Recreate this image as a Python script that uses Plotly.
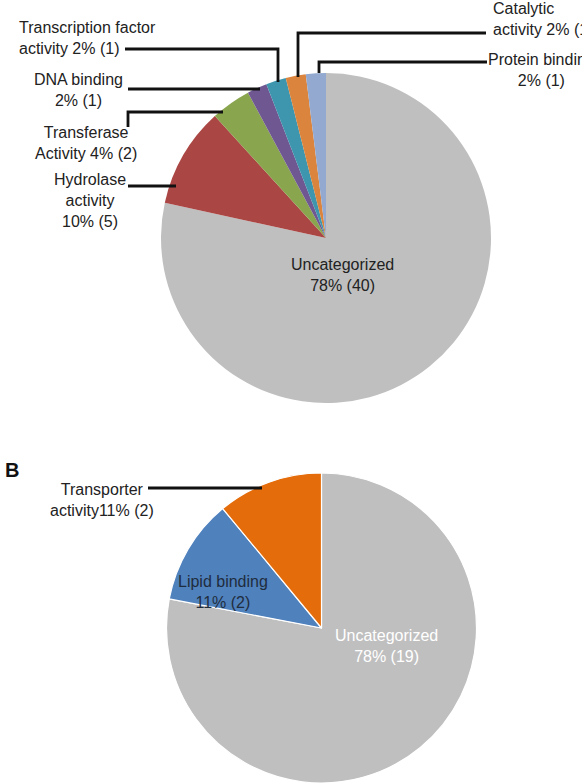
import plotly.graph_objects as go

W, H = 582, 783

# ---- Data (panel A) ----
a_labels = ["Uncategorized", "Hydrolase activity", "Transferase Activity", "DNA binding",
            "Transcription factor activity", "Catalytic activity", "Protein binding"]
a_counts = [40, 5, 2, 1, 1, 1, 1]
a_pct = ["78%", "10%", "4%", "2%", "2%", "2%", "2%"]
a_colors = ["#BFBFBF", "#AA4643", "#89A54E", "#6F5792", "#3D96AE", "#DB843D", "#93A9CF"]

# ---- Data (panel B) ----
b_labels = ["Uncategorized", "Lipid binding", "Transporter activity"]
b_share = [78, 11, 11]          # slice share as drawn (%)
b_counts = [19, 2, 2]
b_pct = ["78%", "11%", "11%"]
b_colors = ["#BFBFBF", "#4F81BD", "#E46C0A"]

FONT = "Liberation Sans, Arial, sans-serif"
TXT = "#222222"
FS = 16


def px(x, y):
    return x / W, 1 - y / H


def dom(cx, cy, r):
    return dict(x=[(cx - r) / W, (cx + r) / W],
                y=[max(0, (H - cy - r) / H), min(1, (H - cy + r) / H)])


fig = go.Figure()
fig.add_trace(go.Pie(
    labels=a_labels, values=a_counts, sort=False, direction="clockwise", rotation=0,
    marker=dict(colors=a_colors, line=dict(width=0)),
    textinfo="none", hoverinfo="label+value+percent", domain=dom(326, 238, 165),
))
fig.add_trace(go.Pie(
    labels=b_labels, values=b_share, sort=False, direction="clockwise", rotation=0,
    marker=dict(colors=b_colors, line=dict(color="white", width=1.2)),
    textinfo="none", hoverinfo="label+percent", domain=dom(321.5, 628, 155),
))


def lab(lbl_lines, i, pct, cnt, joiner):
    return lbl_lines + joiner + f"{pct[i]} ({cnt[i]})"


a_text = [
    lab("Uncategorized", 0, a_pct, a_counts, "<br>"),
    lab("Hydrolase<br>activity", 1, a_pct, a_counts, "<br>"),
    lab("Transferase<br>Activity", 2, a_pct, a_counts, " "),
    lab("DNA binding", 3, a_pct, a_counts, "<br>"),
    lab("Transcription factor<br>activity", 4, a_pct, a_counts, " "),
    lab("Catalytic<br>activity", 5, a_pct, a_counts, " "),
    lab("Protein binding", 6, a_pct, a_counts, "<br>"),
]
# (x, y, xanchor, align)
a_pos = [(342, 275, "center", "center"), (90, 200, "center", "center"),
         (86, 143, "center", "center"), (78, 90.5, "center", "center"),
         (17, 38, "left", "left"), (491, 19, "left", "left"),
         (541, 70.5, "center", "center")]

b_text = [
    lab("Uncategorized", 0, b_pct, b_counts, "<br>"),
    lab("Lipid binding", 1, b_pct, b_counts, "<br>"),
    lab("Transporter<br>activity", 2, b_pct, b_counts, ""),
]
b_pos = [(386, 645.5, "center", "center", "white"),
         (223, 591.5, "center", "center", "#1F2D3D"),
         (102, 500, "center", "center", TXT)]

ann = []
for t, (x, y, xa, al) in zip(a_text, a_pos):
    X, Y = px(x, y)
    ann.append(dict(x=X, y=Y, xref="paper", yref="paper", text=t, showarrow=False,
                    xanchor=xa, yanchor="middle", align=al,
                    font=dict(family=FONT, size=FS, color=TXT)))
for t, (x, y, xa, al, c) in zip(b_text, b_pos):
    X, Y = px(x, y)
    ann.append(dict(x=X, y=Y, xref="paper", yref="paper", text=t, showarrow=False,
                    xanchor=xa, yanchor="middle", align=al,
                    font=dict(family=FONT, size=FS, color=c)))
X, Y = px(3, 470)
ann.append(dict(x=X, y=Y, xref="paper", yref="paper", text="<b>B</b>", showarrow=False,
                xanchor="left", yanchor="middle",
                font=dict(family=FONT, size=20, color="#111111")))

# leader lines (pixel polylines -> paper)
leaders = [
    [(298, 77), (298, 33), (486, 33)],
    [(319, 73), (319, 62), (487, 62)],
    [(125, 49), (278, 49), (278, 82)],
    [(128, 89), (260, 89)],
    [(128, 127), (128, 112), (223, 112)],
    [(128, 186), (176, 186)],
    [(148, 488), (262, 488)],
]
shapes = []
for pts in leaders:
    path = ""
    for k, (x, y) in enumerate(pts):
        X, Y = px(x, y)
        path += ("M" if k == 0 else " L") + f" {X:.5f} {Y:.5f}"
    shapes.append(dict(type="path", path=path, xref="paper", yref="paper",
                       line=dict(color="#111111", width=2.8)))

fig.update_layout(
    width=W, height=H, margin=dict(l=0, r=0, t=0, b=0),
    paper_bgcolor="white", plot_bgcolor="white", showlegend=False,
    annotations=ann, shapes=shapes,
)

fig.write_html("out.html")
